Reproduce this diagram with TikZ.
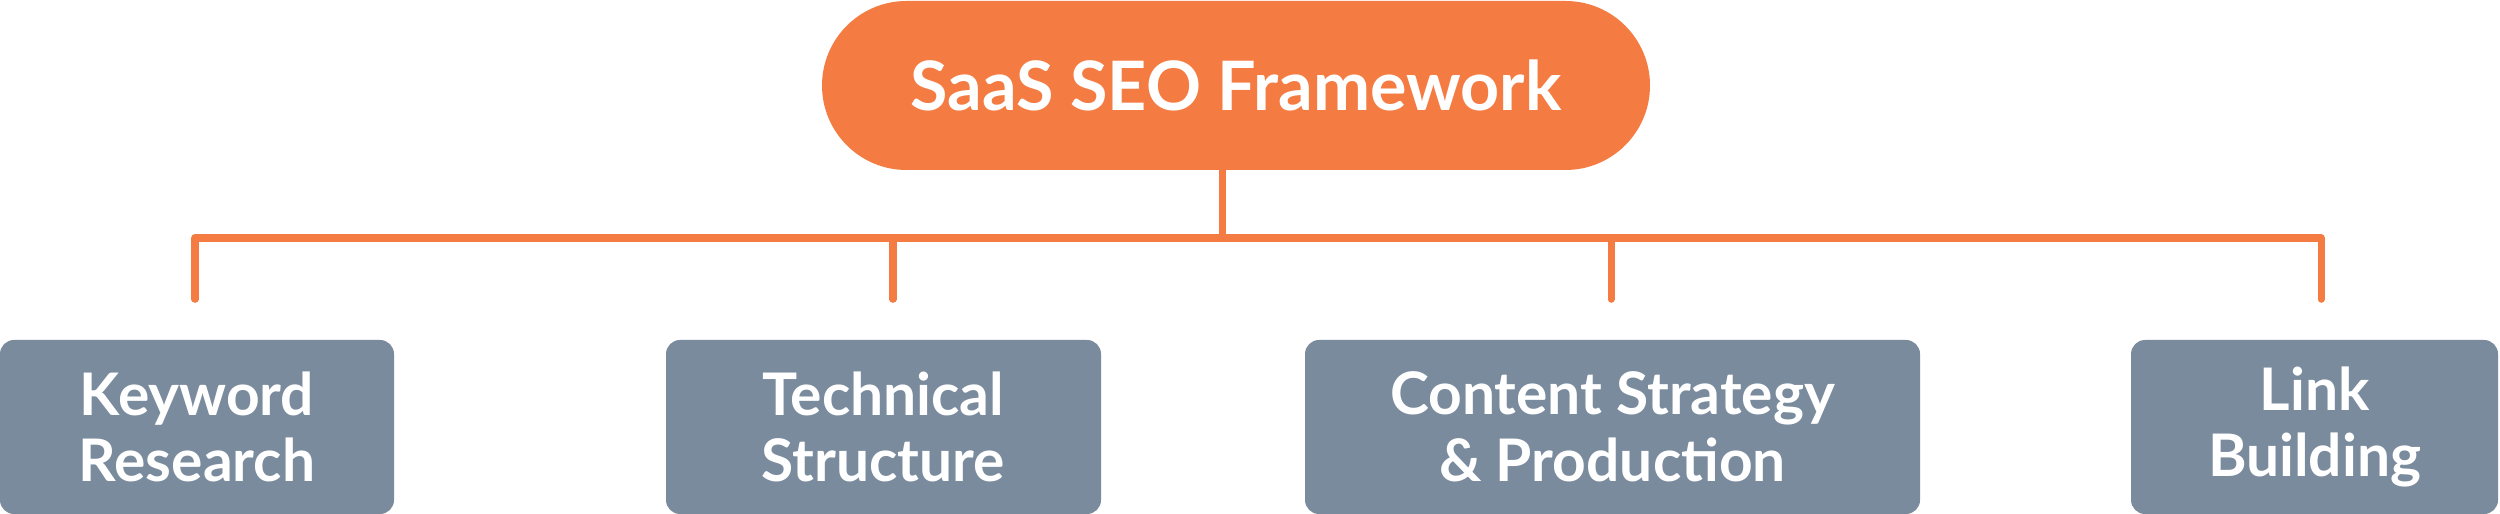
\documentclass[tikz,border=0pt]{standalone}
\usepackage{fontspec}
\setmainfont{Lato}
\definecolor{seoorange}{HTML}{F47C42}
\definecolor{pillarblue}{HTML}{7A8B9E}
\tikzset{
  head/.style={fill=seoorange, rounded corners=0.845cm, minimum width=8.28cm, minimum height=1.69cm, text=white, font=\fontsize{19.4}{23}\selectfont\bfseries},
  pillar/.style={fill=pillarblue, rounded corners=0.14cm, minimum height=1.74cm, text=white, align=center, font=\fontsize{16.7}{19}\selectfont\bfseries},
  link/.style={draw=seoorange, line width=2pt, line cap=round, line join=round}
}
\begin{document}
\begin{tikzpicture}
\useasboundingbox (0,0) rectangle (25,5.14);
\coordinate (hub) at (12.22,2.76);
\draw [link] (12.22,3.6) -- (hub);
\node (frame) at (12.36,4.285) [head] {SaaS SEO Framework};

\node (kw) at (1.97,0.87) [pillar, minimum width=3.94cm] {Keyword\\Research};
\node (ts) at (8.835,0.87) [pillar, minimum width=4.35cm] {Technical\\Structure};
\node (cs) at (16.125,0.87) [pillar, minimum width=6.15cm] {Content Strategy\\\& Production};
\node (lb) at (23.145,0.87) [pillar, minimum width=3.67cm] {Link\\Building};

\coordinate (kwtop) at ([xshift=-0.02cm,yshift=0.4cm]kw.north);
\coordinate (tstop) at ([xshift=0.095cm,yshift=0.4cm]ts.north);
\coordinate (cstop) at ([xshift=-0.015cm,yshift=0.4cm]cs.north);
\coordinate (lbtop) at ([xshift=0.065cm,yshift=0.4cm]lb.north);

\draw [link] (kwtop) |- (hub) -| (lbtop);
\draw [link] (tstop) -- (tstop |- hub);
\draw [link] (cstop) -- (cstop |- hub);
\end{tikzpicture}
\end{document}
